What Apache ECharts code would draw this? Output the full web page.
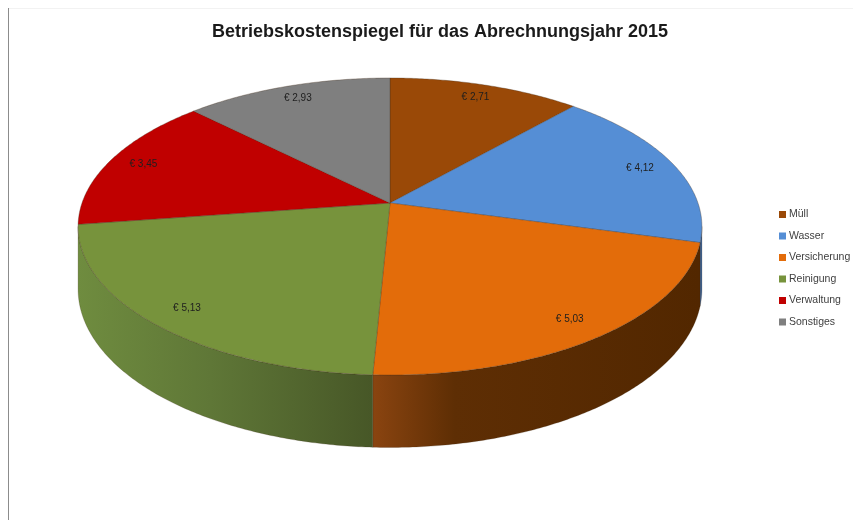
<!DOCTYPE html>
<html><head><meta charset="utf-8">
<script src="https://cdn.jsdelivr.net/npm/echarts@6/dist/echarts.min.js"></script>
<style>html,body{margin:0;padding:0;background:#fff}#c{width:853px;height:520px}</style>
</head><body><div id="c"></div>
<script>
const titleText = 'Betriebskostenspiegel für das Abrechnungsjahr 2015';
const categories = ['Müll', 'Wasser', 'Versicherung', 'Reinigung', 'Verwaltung', 'Sonstiges'];
const values = [2.71, 4.12, 5.03, 5.13, 3.45, 2.93];

const topColors = ['#9a4907', '#558ed5', '#e36c0a', '#77933c', '#c00000', '#7f7f7f'];
const sideStops = [
  [[0, '#6a3305'], [1, '#4e2503']],
  [[0, '#3d6aa3'], [1, '#2f5486']],
  [[0, '#8a4410'], [0.25, '#5e2e04'], [1, '#522700']],
  [[0, '#6f8c3f'], [0.45, '#5f7737'], [1, '#475727']],
  [[0, '#8f0000'], [1, '#700000']],
  [[0, '#5f5f5f'], [1, '#4a4a4a']]
];

const fmt = v => '€ ' + v.toFixed(2).replace('.', ',');
const total = values.reduce((a, b) => a + b, 0);

// projection of the tilted disc (perspective-like)
const CX = 390, CY = 203, FR = 308, FK = 144.8, C = 0.1582, H = 61;
function proj(theta, rho, drop) {
  const s = Math.sin(theta), co = Math.cos(theta);
  const d = 1 + C * rho * co;
  return [CX + FR * rho * s / d, CY + (-FK * rho * co + (drop ? H : 0)) / d];
}
const VIS0 = Math.acos(-C), VIS1 = 2 * Math.PI - Math.acos(-C);

function arcPts(a0, a1, drop) {
  const n = Math.max(2, Math.ceil(Math.abs(a1 - a0) / 0.01));
  const pts = [];
  for (let i = 0; i <= n; i++) pts.push(proj(a0 + (a1 - a0) * i / n, 1, drop));
  return pts;
}

function makeRender(idx) {
  return function (params, api) {
    const v = api.value(0);
    let before = 0;
    for (let i = 0; i < idx; i++) before += values[i];
    const a0 = before / total * 2 * Math.PI;
    const a1 = (before + v) / total * 2 * Math.PI;
    const children = [];
    // side wall
    const s0 = Math.max(a0, VIS0), s1 = Math.min(a1, VIS1);
    if (s1 > s0) {
      const top = arcPts(s0, s1, false);
      const bot = arcPts(s1, s0, true);
      const xs = top.map(p => p[0]);
      const xmin = Math.min.apply(null, xs), xmax = Math.max.apply(null, xs);
      children.push({
        type: 'polygon',
        shape: { points: top.concat(bot) },
        style: {
          fill: new echarts.graphic.LinearGradient(xmin, 0, xmax, 0,
            sideStops[idx].map(s => ({ offset: s[0], color: s[1] })), true),
          stroke: 'rgba(60,40,20,0.35)', lineWidth: 0.6
        }
      });
    }
    // top face
    const pts = [[CX, CY]].concat(arcPts(a0, a1, false));
    children.push({
      type: 'polygon',
      shape: { points: pts },
      style: { fill: topColors[idx], stroke: 'rgba(70,50,30,0.55)', lineWidth: 0.6 }
    });
    // label
    const mid = (a0 + a1) / 2;
    const lp = proj(mid, 0.88, false);
    children.push({
      type: 'text',
      x: lp[0], y: lp[1],
      style: {
        text: fmt(v), fill: '#1e1e1e', font: '10px "Liberation Sans", Arial, sans-serif',
        align: 'center', verticalAlign: 'middle'
      }
    });
    return { type: 'group', children: children };
  };
}

const series = categories.map((name, i) => ({
  name: name,
  type: 'custom',
  coordinateSystem: 'none',
  silent: true,
  itemStyle: { color: topColors[i] },
  data: [[values[i]]],
  renderItem: makeRender(i)
}));

const chart = echarts.init(document.getElementById('c'), null, { renderer: 'canvas' });
chart.setOption({
  backgroundColor: '#ffffff',
  animation: false,
  title: {
    text: titleText,
    left: 435, top: 18, textAlign: 'center',
    textStyle: { fontFamily: '"Liberation Sans", Arial, sans-serif', fontWeight: 'bold', fontSize: 18, color: '#1a1a1a' }
  },
  legend: {
    orient: 'vertical',
    left: 774, top: 204,
    itemWidth: 7, itemHeight: 7, itemGap: 10.5,
    icon: 'rect',
    selectedMode: false,
    textStyle: { fontFamily: '"Liberation Sans", Arial, sans-serif', fontSize: 10.5, color: '#404040', padding: [0, 0, 0, -2] },
    data: categories
  },
  graphic: [
    { type: 'line', shape: { x1: 8.5, y1: 8, x2: 8.5, y2: 520 }, style: { stroke: '#8c8c8c', lineWidth: 1 } },
    { type: 'line', shape: { x1: 9, y1: 8.5, x2: 853, y2: 8.5 }, style: { stroke: '#f2f2f2', lineWidth: 1 } }
  ],
  series: series
});
</script></body></html>
